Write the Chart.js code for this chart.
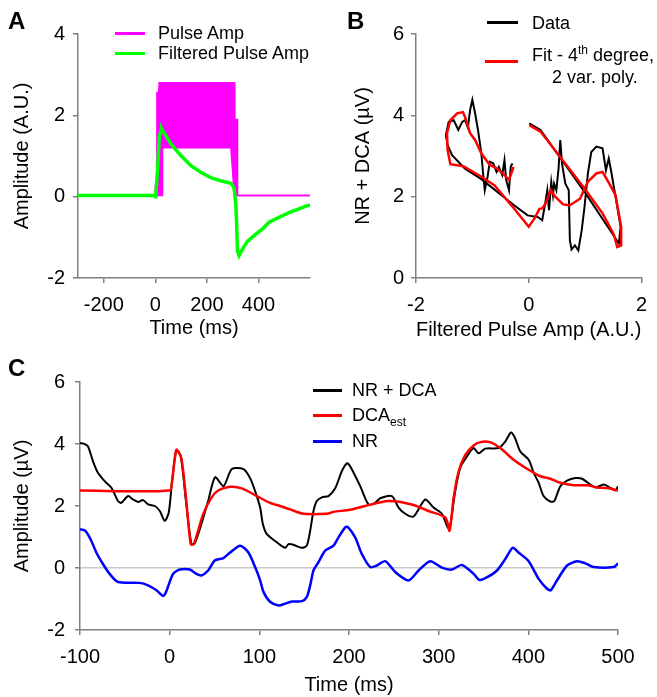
<!DOCTYPE html>
<html lang="en">
<head>
<meta charset="UTF-8">
<title>Pulse amplitude, NR + DCA fit</title>
<script src="https://cdn.jsdelivr.net/npm/chart.js"></script>
<style>
  body { margin: 0; background: #fff; font-family: 'Liberation Sans', Arial, sans-serif; }
  #fig { position: relative; width: 657px; height: 697px; overflow: hidden; }
  canvas, .txt, .sw { position: absolute; }
  .panel { font-weight: bold; font-size: 24px; line-height: 1; }
  .leg { font-size: 18px; line-height: 1; white-space: nowrap; color: #000; }
  .sw { height: 3px; }
  sub, sup { font-size: 12px; line-height: 0; }
</style>
</head>
<body>
<div id="fig">
  <canvas id="chartA" width="330" height="345" style="left:0;top:0"></canvas>
  <canvas id="chartB" width="327" height="345" style="left:330px;top:0"></canvas>
  <canvas id="chartC" width="657" height="337" style="left:0;top:360px"></canvas>

  <div class="txt panel" style="left:8px;top:9px">A</div>
  <div class="txt panel" style="left:347px;top:9px">B</div>
  <div class="txt panel" style="left:8px;top:356px">C</div>

  <!-- legend A -->
  <div class="sw" style="left:115px;top:32px;width:30px;background:#ff00ff"></div>
  <div class="txt leg" style="left:158px;top:24px">Pulse Amp</div>
  <div class="sw" style="left:115px;top:52px;width:30px;background:#00ff00"></div>
  <div class="txt leg" style="left:158px;top:44px">Filtered Pulse Amp</div>

  <!-- legend B -->
  <div class="sw" style="left:487px;top:21px;width:31px;background:#000"></div>
  <div class="txt leg" style="left:532px;top:14px">Data</div>
  <div class="sw" style="left:485px;top:60px;width:33px;background:#ff0000"></div>
  <div class="txt leg" style="left:532px;top:46px">Fit - 4<sup>th</sup> degree,</div>
  <div class="txt leg" style="left:552px;top:68px">2 var. poly.</div>

  <!-- legend C -->
  <div class="sw" style="left:313px;top:389px;width:29px;background:#000"></div>
  <div class="txt leg" style="left:352px;top:381px">NR + DCA</div>
  <div class="sw" style="left:313px;top:414px;width:29px;background:#ff0000"></div>
  <div class="txt leg" style="left:352px;top:406px">DCA<sub>est</sub></div>
  <div class="sw" style="left:313px;top:440px;width:29px;background:#0000ff"></div>
  <div class="txt leg" style="left:352px;top:432px">NR</div>
</div>

<script>
  // ---- panel A: pulse amplitude over time ----
  const aTicksX = [-200, 0, 200, 400];
  const aTicksY = [-2, 0, 2, 4];
  const aPulseT  = [-300, -1, 0, 5, 6, 13, 15, 26, 28, 293, 300, 306, 308, 309, 318, 319, 600];
  const aPulseHi = [0.03, 0.03, 0.27, 0.27, 2.56, 2.56, 2.8, 2.8, 2.8, 2.8, 2.8, 2.8, 2.8, 1.9, 1.9, 0.03, 0.03];
  const aPulseLo = [0.03, 0.03, 0.03, 0.03, 0.03, 0.03, 0.03, 0.03, 1.2, 1.2, 0.6, 0.03, 0.03, 0.03, 0.03, 0.03, 0.03];
  const aFiltered = [
    [-300, 0.03], [-100, 0.03], [-3, 0.03], [0, 0.0], [2, 0.05], [8.5, 0.64], [15, 1.46], [22, 1.62],
    [25, 1.66], [30, 1.6], [41, 1.5], [60, 1.3], [80, 1.15], [99, 1.01], [138, 0.76], [176, 0.6],
    [215, 0.47], [254, 0.39], [293, 0.33], [305, 0.23], [312, -0.17], [315, -0.59], [318.5, -1.33],
    [325, -1.45], [338, -1.29], [357, -1.1], [390, -0.92], [415, -0.8], [441, -0.63], [480, -0.51],
    [519, -0.39], [557, -0.3], [590, -0.22], [600, -0.21]
  ];

  // ---- panel B: NR + DCA against filtered pulse amplitude ----
  const bTicksX = [-2, 0, 2];
  const bTicksY = [0, 2, 4, 6];
  const bData = [
    [0.01, 3.8], [0.21, 3.64], [1.0, 2.1], [1.6, 0.85], [1.63, 1.26], [1.54, 2.0], [1.46, 2.65], [1.42, 2.94],
    [1.37, 2.65], [1.31, 3.19], [1.2, 3.23], [1.11, 3.1], [1.05, 2.57], [0.99, 1.75], [0.94, 1.17], [0.88, 0.68],
    [0.82, 0.8], [0.76, 0.7], [0.73, 0.93], [0.71, 2.16], [0.65, 2.32], [0.59, 2.82], [0.56, 3.39], [0.53, 2.7],
    [0.49, 2.16], [0.45, 2.32], [0.43, 2.04], [0.4, 2.36], [0.36, 1.67], [0.33, 2.16], [0.3, 1.9], [0.24, 1.42],
    [0.16, 1.5], [-0.02, 1.54], [-0.26, 1.79], [-0.84, 2.43], [-1.13, 2.69], [-1.36, 3.02], [-1.44, 3.27],
    [-1.47, 3.51], [-1.42, 3.84], [-1.33, 3.88], [-1.25, 3.64], [-1.18, 3.84], [-1.13, 3.88], [-1.08, 3.7],
    [-1.04, 4.13], [-1.0, 4.38], [-0.95, 4.04], [-0.9, 3.64], [-0.84, 3.06], [-0.81, 2.57], [-0.78, 2.16],
    [-0.73, 2.49], [-0.69, 2.86], [-0.63, 2.82], [-0.57, 2.61], [-0.53, 2.73], [-0.47, 2.53], [-0.43, 2.9],
    [-0.4, 2.41], [-0.35, 2.16], [-0.32, 2.73], [-0.29, 2.82]
  ];
  const bFit = [
    [0.01, 3.76], [0.21, 3.6], [0.6, 2.9], [0.99, 2.2], [1.31, 1.59], [1.51, 1.07], [1.57, 0.76], [1.64, 0.8],
    [1.64, 1.26], [1.54, 2.04], [1.43, 2.32], [1.31, 2.61], [1.2, 2.57], [1.05, 2.37], [0.91, 1.95], [0.73, 1.79],
    [0.61, 1.81], [0.47, 2.0], [0.39, 2.16], [0.3, 1.83], [0.24, 1.71], [0.19, 1.7], [0.1, 1.46], [0.0, 1.26],
    [-0.26, 1.71], [-0.61, 2.28], [-0.84, 2.49], [-1.16, 2.75], [-1.39, 2.8], [-1.44, 3.15], [-1.45, 3.56],
    [-1.39, 3.88], [-1.27, 4.05], [-1.17, 4.08], [-1.13, 3.96], [-1.04, 3.56], [-0.95, 3.39], [-0.84, 3.06],
    [-0.69, 2.78], [-0.57, 2.7], [-0.46, 2.57], [-0.35, 2.41], [-0.31, 2.57], [-0.27, 2.73]
  ];

  // ---- panel C: amplitudes over time ----
  const cTicksX = [-100, 0, 100, 200, 300, 400, 500];
  const cTicksY = [-2, 0, 2, 4, 6];
  const cSum = [
    [-100, 4.03], [-95, 4.0], [-91, 3.92], [-85.5, 3.44], [-80, 3.07], [-72.5, 2.8], [-65, 2.59], [-57.6, 2.16],
    [-54, 2.1], [-46.4, 2.32], [-40.8, 2.21], [-35.3, 2.13], [-29.7, 2.19], [-24, 2.05], [-16.6, 2.0], [-11, 1.84],
    [-5.5, 1.52], [-1, 1.79], [2.7, 2.8], [7.5, 3.81], [12.4, 3.6], [18, 2.2], [24.2, 0.77], [28, 0.8],
    [35.4, 1.42], [42.9, 2.16], [50.7, 2.93], [60, 2.64], [69.3, 3.19], [82.3, 3.19], [89.7, 2.9], [95.3, 2.48],
    [100.9, 1.95], [104, 1.41], [108.4, 1.09], [119.5, 0.83], [128.8, 0.65], [132.5, 0.77], [138, 0.75],
    [147.3, 0.65], [152.9, 0.72], [156.7, 1.2], [160.4, 1.84], [164.1, 2.16], [169.7, 2.28], [177.1, 2.32],
    [184.6, 2.57], [192, 3.12], [198, 3.38], [201.3, 3.28], [212.5, 2.64], [221.8, 2.05], [229, 2.1],
    [234.8, 2.25], [247.8, 2.32], [255.3, 1.95], [262.7, 1.75], [272, 1.66], [285, 2.21], [294.3, 1.95],
    [303.6, 1.75], [309.2, 1.36], [312, 1.25], [318.5, 2.48], [324, 3.23], [331.6, 3.6], [339, 3.87],
    [344.6, 3.7], [352, 3.85], [366.9, 3.87], [374.3, 4.08], [380.7, 4.37], [385, 4.2], [391, 3.76],
    [400.4, 3.49], [406, 3.07], [411.5, 2.75], [417, 2.32], [424.6, 2.14], [429, 2.16], [435.7, 2.64],
    [443.2, 2.82], [452.5, 2.9], [460, 2.88], [469.2, 2.69], [475, 2.6], [484, 2.69], [489.4, 2.62],
    [497, 2.5], [500, 2.64]
  ];
  const cDcaEst = [
    [-100, 2.5], [0, 2.5], [2.7, 2.8], [7.5, 3.81], [13, 3.55], [18.6, 2.16], [23.5, 0.77], [27, 0.77],
    [37.3, 1.73], [46.6, 2.27], [54, 2.5], [67.4, 2.62], [80.5, 2.57], [97.2, 2.32], [112, 2.1], [123.2, 2.0],
    [134.4, 1.89], [149.2, 1.75], [175.3, 1.75], [182.8, 1.81], [201.3, 1.88], [218, 2.0], [244, 2.16],
    [270, 2.05], [288.7, 1.84], [307.4, 1.63], [312.2, 1.2], [316.7, 2.27], [322.3, 3.12], [329.7, 3.65],
    [339, 3.95], [346.4, 4.06], [357, 4.06], [368.7, 3.87], [383.6, 3.49], [398.5, 3.2], [413.4, 2.96],
    [424.6, 2.88], [435.7, 2.75], [450.6, 2.67], [465.5, 2.67], [476.7, 2.6], [487.8, 2.58], [500, 2.5]
  ];
  const cNR = [
    [-100, 1.25], [-94, 1.2], [-87.4, 0.88], [-81.8, 0.5], [-74.4, 0.13], [-66.9, -0.19], [-57.6, -0.45],
    [-33.4, -0.48], [-24.1, -0.56], [-14.7, -0.72], [-7.4, -0.9], [-4, -0.77], [3.8, -0.19], [11.3, -0.05],
    [22.4, -0.05], [29.8, -0.19], [35.4, -0.24], [42.9, -0.08], [50.3, 0.24], [60, 0.32], [67.4, 0.5],
    [78.6, 0.72], [87.8, 0.5], [95.3, 0.03], [100.9, -0.4], [104.6, -0.77], [112, -1.09], [121.4, -1.21],
    [128.8, -1.15], [136.3, -1.08], [147.4, -1.07], [153, -0.93], [156.7, -0.56], [160.4, -0.08], [166, 0.19],
    [173.4, 0.56], [182.7, 0.72], [188.3, 0.99], [195.8, 1.31], [198.5, 1.33], [206.9, 0.99], [214.3, 0.45],
    [223.7, 0.03], [231, 0.08], [240.4, 0.22], [251.6, -0.13], [266.4, -0.4], [277.6, -0.08], [290.6, 0.22],
    [303.6, 0.01], [314.8, -0.05], [326, 0.1], [339, -0.19], [345, -0.38], [352, -0.33], [365, -0.08],
    [374.3, 0.29], [382.5, 0.65], [389, 0.5], [400.4, 0.22], [411.5, -0.35], [420.9, -0.67], [425, -0.72],
    [432, -0.4], [443.2, 0.08], [454.3, 0.22], [463.6, 0.15], [472.9, 0.03], [495.2, 0.03], [500, 0.15]
  ];

  const FONT = "'Liberation Sans', Arial, sans-serif";
  const AXIS = '#808080';

  const pairs = arr => arr.map(([x, y]) => ({ x, y }));
  const zip = (xs, ys) => xs.map((x, i) => ({ x, y: ys[i] }));

  function axis(o) {
    return {
      type: 'linear', min: o.min, max: o.max,
      border: { color: AXIS, width: 1.5 },
      grid: {
        drawOnChartArea: !!o.zero,
        color: o.zero ? (c => (c.tick && c.tick.value === 0) ? '#c8c8c8' : 'rgba(0,0,0,0)') : AXIS,
        tickColor: AXIS, tickLength: 5, lineWidth: 1.5
      },
      ticks: { color: '#000', font: { family: FONT, size: 20 }, padding: o.pad, maxRotation: 0 },
      title: { display: true, text: o.title, color: '#000', font: { family: FONT, size: 20 }, padding: o.titlePad },
      afterBuildTicks: s => { s.ticks = o.ticks.map(v => ({ value: v })); },
      afterFit: s => { if (o.w) s.width = o.w; else s.height = o.h; }
    };
  }

  function makeChart(id, datasets, x, y, padding) {
    return new Chart(document.getElementById(id), {
      type: 'line',
      data: { datasets },
      options: {
        responsive: false, animation: false, devicePixelRatio: 1,
        layout: { padding },
        plugins: { legend: { display: false }, tooltip: { enabled: false } },
        elements: { point: { radius: 0 }, line: { tension: 0 } },
        scales: { x: axis(x), y: axis(y) }
      }
    });
  }

  makeChart('chartA', [
    { label: 'Filtered Pulse Amp', data: pairs(aFiltered), borderColor: '#00ff00', borderWidth: 3.5, order: 0 },
    { label: 'Pulse Amp', data: zip(aPulseT, aPulseHi), borderColor: '#ff00ff', borderWidth: 1.5,
      backgroundColor: '#ff00ff', fill: '+1', order: 1 },
    { label: 'Pulse Amp (low)', data: zip(aPulseT, aPulseLo), borderColor: '#ff00ff', borderWidth: 1.5, order: 2 }
  ],
  { min: -300, max: 600, ticks: aTicksX, title: 'Time (ms)', pad: 10, titlePad: { top: 0, bottom: 4 }, h: 66 },
  { min: -2, max: 4, ticks: aTicksY, title: 'Amplitude (A.U.)', pad: 8, titlePad: { top: 10, bottom: 0 }, w: 78 },
  { left: 0, top: 34, right: 20, bottom: 1 });

  makeChart('chartB', [
    { label: 'Fit - 4th degree, 2 var. poly.', data: pairs(bFit), borderColor: '#ff0000', borderWidth: 2.5, order: 0 },
    { label: 'Data', data: pairs(bData), borderColor: '#000', borderWidth: 2, order: 1 }
  ],
  { min: -2, max: 2, ticks: bTicksX, title: 'Filtered Pulse Amp (A.U.)', pad: 10, titlePad: { top: 0, bottom: 2 }, h: 66 },
  { min: 0, max: 6, ticks: bTicksY, title: 'NR + DCA (µV)', pad: 7, titlePad: { top: 21, bottom: 0 }, w: 86 },
  { left: 0, top: 34, right: 10, bottom: 1 });

  makeChart('chartC', [
    { label: 'DCA est', data: pairs(cDcaEst), borderColor: '#ff0000', borderWidth: 2.5, tension: 0.25, order: 0 },
    { label: 'NR + DCA', data: pairs(cSum), borderColor: '#000', borderWidth: 2, tension: 0.25, order: 1 },
    { label: 'NR', data: pairs(cNR), borderColor: '#0000ff', borderWidth: 2.5, tension: 0.25, order: 2 }
  ],
  { min: -100, max: 500, ticks: cTicksX, title: 'Time (ms)', pad: 10, titlePad: { top: 0, bottom: 0 }, h: 67 },
  { min: -2, max: 6, ticks: cTicksY, title: 'Amplitude (µV)', pad: 10, titlePad: { top: 10, bottom: 0 }, w: 80, zero: true },
  { left: 0, top: 20, right: 39, bottom: 0 });
</script>
</body>
</html>
